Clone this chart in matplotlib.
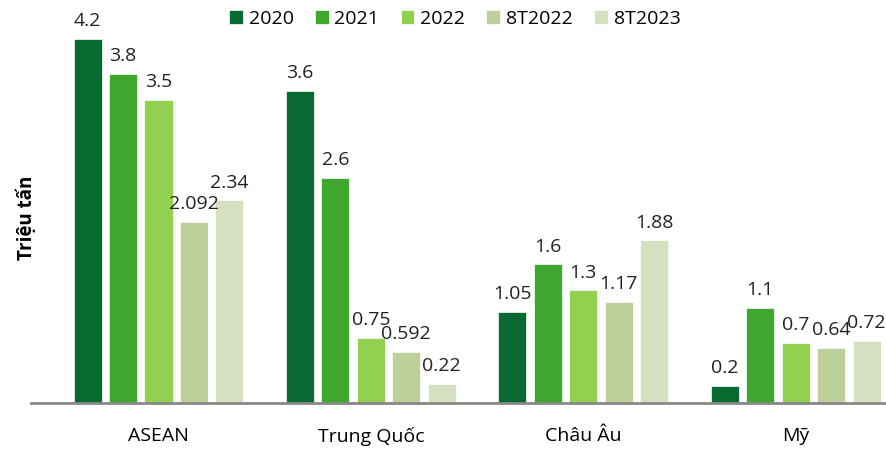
import matplotlib
matplotlib.use("Agg")
import matplotlib.pyplot as plt
import numpy as np

plt.rcParams['font.family'] = ['Open Sans', 'DejaVu Sans']

categories = ["ASEAN", "Trung Quốc", "Châu Âu", "Mỹ"]
series_names = ["2020", "2021", "2022", "8T2022", "8T2023"]
v2020 = [4.2, 3.6, 1.05, 0.2]
v2021 = [3.8, 2.6, 1.6, 1.1]
v2022 = [3.5, 0.75, 1.3, 0.7]
v8t2022 = [2.092, 0.592, 1.17, 0.64]
v8t2023 = [2.34, 0.22, 1.88, 0.72]
labels_2020 = ["4.2", "3.6", "1.05", "0.2"]
labels_2021 = ["3.8", "2.6", "1.6", "1.1"]
labels_2022 = ["3.5", "0.75", "1.3", "0.7"]
labels_8t2022 = ["2.092", "0.592", "1.17", "0.64"]
labels_8t2023 = ["2.34", "0.22", "1.88", "0.72"]

series = [v2020, v2021, v2022, v8t2022, v8t2023]
labels = [labels_2020, labels_2021, labels_2022, labels_8t2022, labels_8t2023]
colors = ["#086a30", "#3fa72e", "#92d050", "#bdd09a", "#d4e0c0"]

fig = plt.figure(figsize=(8.87, 4.5), dpi=100)
ax = fig.add_axes([0.035, 0.104, 0.965, 0.896])

x = np.arange(len(categories))
pitch = 0.167
width = 0.132
for i, (vals, lab, c, name) in enumerate(zip(series, labels, colors, series_names)):
    pos = x + (i - 2) * pitch
    bars = ax.bar(pos, vals, width=width, color=c, label=name, edgecolor='white', linewidth=0.5)
    for b, t in zip(bars, lab):
        ax.text(b.get_x() + b.get_width() / 2, b.get_height() + 0.1, t,
                ha='center', va='bottom', fontsize=14, color='#222222')

ax.set_xlim(-0.6, 3.43)
ax.set_ylim(0, 4.65)
ax.set_xticks(x)
ax.set_xticklabels(categories, fontsize=14)
ax.tick_params(axis='x', length=0, pad=17)
ax.set_yticks([])
for s in ['top', 'right', 'left']:
    ax.spines[s].set_visible(False)
ax.spines['bottom'].set_color('#888888')
ax.spines['bottom'].set_linewidth(2)

fig.text(0.03, 0.515, "Triệu tấn", rotation=90, ha='center', va='center',
         fontsize=13.5, fontweight='bold')

leg = ax.legend(loc='upper center', bbox_to_anchor=(0.495, 1.0), ncol=5, frameon=False,
                fontsize=14, handlelength=0.7, handleheight=0.7, handletextpad=0.3,
                columnspacing=1.1, borderaxespad=0.1)

fig.savefig("out.png", dpi=100)
